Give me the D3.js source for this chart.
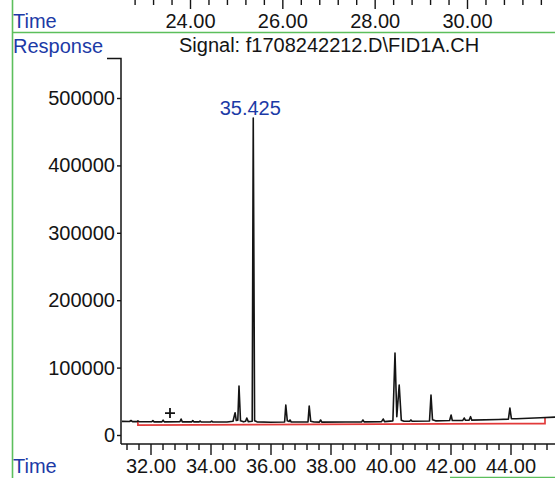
<!DOCTYPE html>
<html><head><meta charset="utf-8">
<script src="https://cdn.jsdelivr.net/npm/d3@7"></script>
<style>
html,body{margin:0;padding:0;background:#fff;}
svg{display:block;font-family:"Liberation Sans",Arial,sans-serif;}
</style></head>
<body>
<svg id="c" width="555" height="478"></svg>
<script>
// ---- data ----
const signalTitle = "Signal: f1708242212.D\\FID1A.CH";
const peakLabel = "35.425";
const peakLabelTime = 35.425;
const peakLabelResponse = 470300;

const yTickValues = [0, 100000, 200000, 300000, 400000, 500000];
const xMajorTicks = [32, 34, 36, 38, 40, 42, 44];
const xMinorTicks = [31.2,31.6,32.4,32.8,33.2,33.6,34.4,34.8,35.2,35.6,36.4,36.8,37.2,37.6,38.4,38.8,39.2,39.6,40.4,40.8,41.2,41.6,42.4,42.8,43.2,43.6,44.4,44.8,45.2];
const topMajorTicks = [24, 26, 28, 30];
const topMinorTicks = [22.8,23.2,23.6,24.4,24.8,25.2,25.6,26.4,26.8,27.2,27.6,28.4,28.8,29.2,29.6,30.4,30.8,31.2,31.6];

const traceTimes = [31.05,31.30,31.35,31.40,31.55,31.58,31.62,32.04,32.08,32.12,32.38,32.42,32.46,32.98,33.02,33.06,33.37,33.41,33.45,33.62,33.65,33.69,34.00,34.04,34.08,34.55,34.75,34.82,34.86,34.91,34.95,35.00,35.10,35.17,35.21,35.26,35.39,35.425,35.47,35.55,36.00,36.47,36.51,36.56,36.62,36.65,36.69,37.25,37.29,37.34,37.45,37.63,37.67,37.71,38.50,39.04,39.08,39.12,39.70,39.76,39.80,40.08,40.15,40.21,40.29,40.36,40.45,40.64,40.68,40.72,41.30,41.35,41.40,41.50,41.97,42.02,42.06,42.41,42.46,42.50,42.62,42.67,42.71,43.60,43.93,43.98,44.03,44.20,45.00,45.60];
const traceResponses = [20200,20000,21500,19900,19800,21000,19700,19600,21300,19500,19500,22000,19500,19600,23700,19500,19400,21500,19400,19400,20800,19300,19300,20500,19300,19200,20500,33100,21500,22000,72700,21000,19500,20500,25200,19800,20500,470300,21000,19500,19000,19200,44500,21000,20000,22300,19300,19300,43000,20500,19200,19100,22300,19100,19300,19500,22300,19500,19800,23700,19800,21000,121700,27000,74200,22000,20300,20300,22300,20300,20800,59300,22500,21000,21500,29700,21500,21700,25200,21800,21900,27200,22000,23000,23500,40000,24300,24000,25500,26700];

const baselineTimes = [31.58, 31.58, 45.15, 45.15];
const baselineResponses = [19500, 14800, 17000, 25200];

const markerTime = 32.65;
const markerResponse = 32600;

// ---- drawing ----
const svg = d3.select("#c");
const blue = "#1c3aa6";
const green = "#5cbf5c";
const ink = "#141414";

const x = d3.scaleLinear().domain([32, 44]).range([150.5, 510.5]);
const xTop = d3.scaleLinear().domain([24, 30]).range([190, 467]);
const y = d3.scaleLinear().domain([0, 500000]).range([435, 98]);

// green frame lines
svg.append("line").attr("x1", 12.5).attr("x2", 12.5).attr("y1", 0).attr("y2", 478)
  .attr("stroke", green).attr("stroke-width", 1.6);
svg.append("line").attr("x1", 12).attr("x2", 555).attr("y1", 32.5).attr("y2", 32.5)
  .attr("stroke", green).attr("stroke-width", 1.6);
svg.append("line").attr("x1", 450).attr("x2", 555).attr("y1", 477.5).attr("y2", 477.5)
  .attr("stroke", green).attr("stroke-width", 1.4);

// top (previous panel) axis
const gTop = svg.append("g").attr("transform", "translate(0,0)");
gTop.append("g").call(d3.axisBottom(xTop).tickValues(topMinorTicks).tickSize(5).tickFormat(""))
  .call(g => g.select(".domain").remove());
gTop.append("g").call(d3.axisBottom(xTop).tickValues(topMajorTicks).tickSize(9).tickPadding(5).tickFormat(d3.format(".2f")))
  .call(g => g.select(".domain").remove());
gTop.selectAll("line").attr("stroke", ink).attr("stroke-width", 1.4);
gTop.selectAll("text").attr("font-size", 20).attr("fill", ink).attr("font-family", "Liberation Sans, Arial, sans-serif");

svg.append("text").attr("x", 13).attr("y", 28).attr("font-size", 20).attr("fill", blue).text("Time");
svg.append("text").attr("x", 13).attr("y", 53).attr("font-size", 20).attr("fill", blue).text("Response");
svg.append("text").attr("x", 179).attr("y", 52).attr("font-size", 20).attr("fill", ink).text(signalTitle);
svg.append("text").attr("x", 13).attr("y", 473).attr("font-size", 20).attr("fill", blue).text("Time");

// y axis
const yAxisX = 121;
svg.append("path").attr("d", `M107,58.5H${yAxisX}V444`).attr("fill", "none").attr("stroke", ink).attr("stroke-width", 1.5);
const gY = svg.append("g").attr("transform", `translate(${yAxisX},0)`)
  .call(d3.axisLeft(y).tickValues(yTickValues).tickSize(4).tickPadding(2).tickFormat(d3.format("d")))
  .call(g => g.select(".domain").remove());
gY.selectAll("line").attr("stroke", ink).attr("stroke-width", 1.4);
gY.selectAll("text").attr("font-size", 20).attr("fill", ink).attr("font-family", "Liberation Sans, Arial, sans-serif");

// x axis
const axisY = 444;
svg.append("line").attr("x1", yAxisX).attr("x2", 555).attr("y1", axisY).attr("y2", axisY)
  .attr("stroke", ink).attr("stroke-width", 1.5);
const gX = svg.append("g").attr("transform", `translate(0,${axisY})`);
gX.append("g").call(d3.axisBottom(x).tickValues(xMinorTicks).tickSize(6).tickFormat(""))
  .call(g => g.select(".domain").remove());
gX.append("g").call(d3.axisBottom(x).tickValues(xMajorTicks).tickSize(11).tickPadding(4).tickFormat(d3.format(".2f")))
  .call(g => g.select(".domain").remove());
gX.selectAll("line").attr("stroke", ink).attr("stroke-width", 1.4);
gX.selectAll("text").attr("font-size", 20).attr("fill", ink).attr("font-family", "Liberation Sans, Arial, sans-serif");

// integration baseline (red)
const bl = baselineTimes.map((t, i) => [t, baselineResponses[i]]);
svg.append("path").datum(bl)
  .attr("d", d3.line().x(d => x(d[0])).y(d => y(d[1])))
  .attr("fill", "none").attr("stroke", "#e23a3a").attr("stroke-width", 1.7);

// trace
const pts = traceTimes.map((t, i) => [t, traceResponses[i]]);
svg.append("path").datum(pts)
  .attr("d", d3.line().x(d => x(d[0])).y(d => y(d[1])))
  .attr("fill", "none").attr("stroke", ink).attr("stroke-width", 1.6).attr("stroke-linejoin", "round");

// "+" marker
const mx = x(markerTime), my = y(markerResponse);
svg.append("path").attr("d", `M${mx-5},${my}H${mx+5}M${mx},${my-5}V${my+5}`)
  .attr("stroke", ink).attr("stroke-width", 1.8);

// peak label
svg.append("text").attr("x", x(peakLabelTime) - 3).attr("y", y(peakLabelResponse) - 3)
  .attr("text-anchor", "middle").attr("font-size", 20).attr("fill", blue).text(peakLabel);
</script>
</body></html>
